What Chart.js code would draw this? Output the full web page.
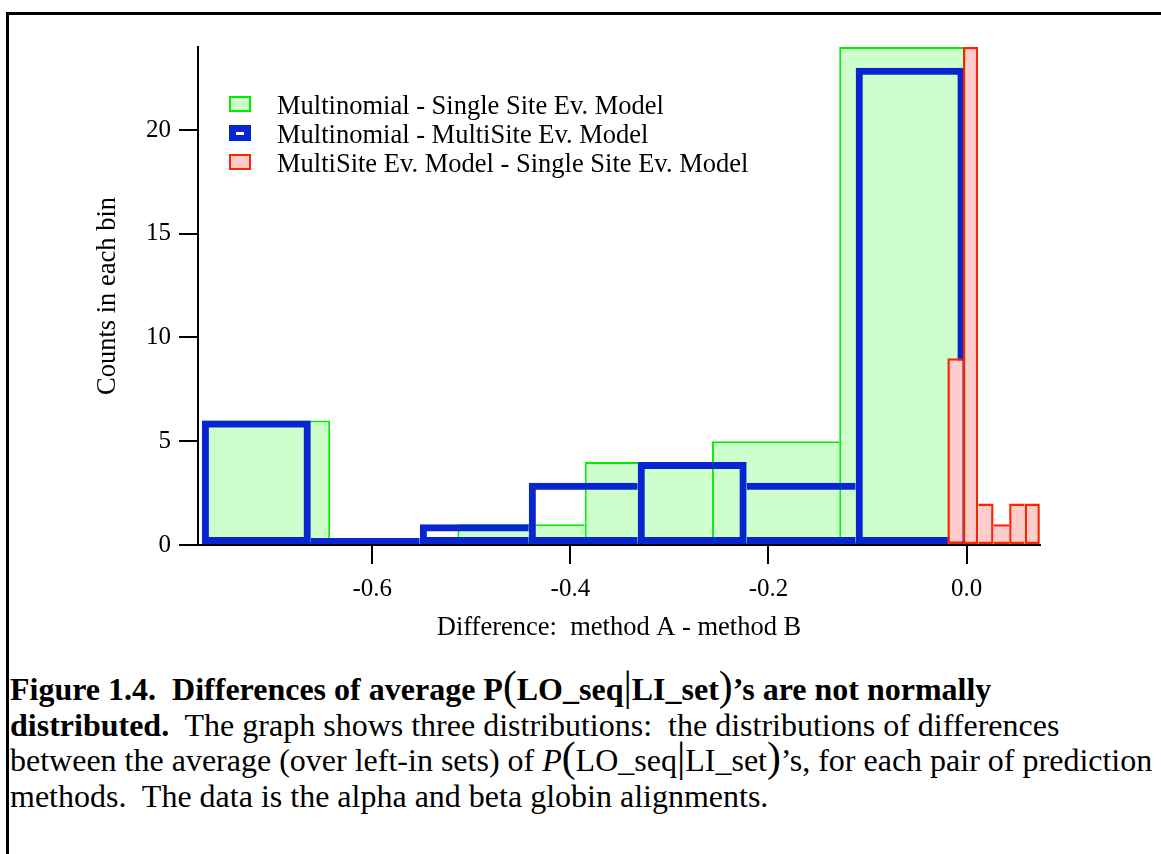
<!DOCTYPE html>
<html>
<head>
<meta charset="utf-8">
<title>Differences of average P(LO_seq|LI_set)</title>
<script src="https://cdn.jsdelivr.net/npm/chart.js@4.4.1/dist/chart.umd.min.js"></script>
<style>
  html, body { margin: 0; padding: 0; background: #fff; overflow: hidden; }
  body { width: 1161px; height: 854px; position: relative; color: #000;
         font-family: 'Liberation Serif', 'Times New Roman', serif; }
  #frame { position: absolute; left: 6px; top: 12px; width: 1300px; height: 1000px;
           border-top: 3px solid #000; border-left: 3px solid #000; }
  #chart_wrap { position: absolute; left: 0; top: 0; width: 1161px; height: 660px; }
  #legend { position: absolute; left: 229px; top: 91px; font-size: 26.5px; }
  .legend_row { position: relative; height: 29px; line-height: 29px; white-space: nowrap; padding-left: 48px; }
  .swatch { position: absolute; left: 0; top: 5px; width: 22px; height: 16px; box-sizing: border-box; }
  .sw_green { background: #ccffcc; border: 2px solid #00ee00; }
  .sw_blue { background: #0726d0; }
  .sw_blue::after { content: ''; position: absolute; left: 7px; top: 7px; width: 8px; height: 2.5px; background: #fff; }
  .sw_red { background: #ffcccc; border: 2px solid #ff2200; }
  #caption { position: absolute; left: 10px; top: 672px; font-size: 32px; }
  .cap_line { height: 35.5px; line-height: 35.5px; white-space: nowrap; }
  .big { font-size: 1.3em; line-height: 0; font-weight: normal; }
  .thin { font-weight: normal; }
</style>
</head>
<body>
<div id="frame"></div>
<div id="chart_wrap"><canvas id="chart"></canvas></div>
<div id="legend"></div>
<div id="caption">
  <div class="cap_line"><b>Figure 1.4.&nbsp; Differences of average P<span class="big">(</span>LO_seq<span class="big thin">|</span>LI_set<span class="big">)</span>’s are not normally</b></div>
  <div class="cap_line"><b>distributed.</b>&nbsp; The graph shows three distributions:&nbsp; the distributions of differences</div>
  <div class="cap_line">between the average (over left-in sets) of <i>P</i><span class="big">(</span>LO_seq<span class="big">|</span>LI_set<span class="big">)</span>’s, for each pair of prediction</div>
  <div class="cap_line">methods.&nbsp; The data is the alpha and beta globin alignments.</div>
</div>
<script>
// histogram data (bin centres on the x axis, counts per bin)

const SERIES_LABELS = [
  'Multinomial - Single Site Ev. Model',
  'Multinomial - MultiSite Ev. Model',
  'MultiSite Ev. Model - Single Site Ev. Model'
];

const GREEN_BIN_CENTERS = [ -0.7068, -0.5783, -0.4498, -0.3213, -0.1928, -0.0643 ];
const GREEN_COUNTS = [ 6, 0, 1, 4, 5, 24 ];

const BLUE_BIN_CENTERS = [ -0.7171, -0.6071, -0.4970, -0.3870, -0.2770, -0.1669, -0.0569 ];
const BLUE_COUNTS = [ 6, 0, 1, 3, 4, 3, 23 ];

const RED_BIN_CENTERS = [ -0.0116, 0.0040, 0.0196, 0.0352, 0.0508, 0.0663 ];
const RED_COUNTS = [ 9, 24, 2, 1, 2, 2 ];

const X_TICKS = [ -0.6, -0.4, -0.2, 0.0 ];
const Y_TICKS = [ 0, 5, 10, 15, 20 ];

const X_MIN = -0.776;
const X_MAX = 0.0742;
const Y_MAX = 24;

const FONT = "'Liberation Serif', 'Times New Roman', serif";
const SWATCH_CLASSES = [ 'sw_green', 'sw_blue', 'sw_red' ];

function make_points( centers_in, counts_in ) {
  return centers_in.map( ( c, i ) => {
    return { x: c, y: counts_in[ i ] };
  } );
}

// each shared bin edge is drawn once, by the taller of the two bars
function edge_borders( counts_in, width_in ) {
  return function ( ctx ) {
    const i = ctx.dataIndex;
    if ( i === undefined ) return width_in;
    const c = counts_in[ i ];
    const prev = i > 0 ? counts_in[ i - 1 ] : -1;
    const next = i < counts_in.length - 1 ? counts_in[ i + 1 ] : -1;
    return {
      top: width_in,
      bottom: width_in,
      left: c >= prev ? width_in : 0,
      right: c > next ? width_in : 0
    };
  };
}

function use_ticks( values_in ) {
  return function ( scale ) {
    scale.ticks = values_in.map( v => ( { value: v } ) );
  };
}

function hidden_x_axis() {
  return {
    type: 'linear', axis: 'x', position: 'bottom', display: false,
    offset: false,
    grid: { offset: false },
    min: X_MIN, max: X_MAX,
    afterBuildTicks: use_ticks( X_TICKS )
  };
}

function build_legend() {
  const box = document.getElementById( 'legend' );
  SERIES_LABELS.forEach( ( label, i ) => {
    const row = document.createElement( 'div' );
    row.className = 'legend_row';
    const sw = document.createElement( 'span' );
    sw.className = 'swatch ' + SWATCH_CLASSES[ i ];
    row.appendChild( sw );
    row.appendChild( document.createTextNode( label ) );
    box.appendChild( row );
  } );
}

const BAR_COMMON = {
  grouped: false,
  borderSkipped: false,
  barPercentage: 1.0,
  categoryPercentage: 1.0,
  inflateAmount: 0
};

function create_chart() {
  const ctx = document.getElementById( 'chart' ).getContext( '2d' );
  return new Chart( ctx, {
    type: 'bar',
    data: {
      datasets: [
        Object.assign( {
          label: SERIES_LABELS[ 0 ],
          data: make_points( GREEN_BIN_CENTERS, GREEN_COUNTS ),
          xAxisID: 'x',
          backgroundColor: '#ccffcc',
          borderColor: '#00ee00',
          borderWidth: edge_borders( GREEN_COUNTS, 2 ),
          order: 3
        }, BAR_COMMON ),
        Object.assign( {
          label: SERIES_LABELS[ 1 ],
          data: make_points( BLUE_BIN_CENTERS, BLUE_COUNTS ),
          xAxisID: 'x_blue',
          backgroundColor: 'rgba(0,0,0,0)',
          borderColor: '#0726d0',
          borderWidth: edge_borders( BLUE_COUNTS, 7 ),
          minBarLength: 7,
          order: 2
        }, BAR_COMMON ),
        Object.assign( {
          label: SERIES_LABELS[ 2 ],
          data: make_points( RED_BIN_CENTERS, RED_COUNTS ),
          xAxisID: 'x_red',
          backgroundColor: '#ffcccc',
          borderColor: '#ff2200',
          borderWidth: edge_borders( RED_COUNTS, 2.5 ),
          order: 1
        }, BAR_COMMON )
      ]
    },
    options: {
      responsive: true,
      maintainAspectRatio: false,
      animation: false,
      events: [],
      layout: { padding: { left: 0, top: 47, right: 121, bottom: 15 } },
      plugins: {
        legend: { display: false },
        tooltip: { enabled: false }
      },
      scales: {
        x: {
          type: 'linear',
          position: 'bottom',
          offset: false,
          min: X_MIN,
          max: X_MAX,
          afterBuildTicks: use_ticks( X_TICKS ),
          afterFit: s => { s.height = 100; },
          ticks: {
            color: '#000',
            font: { family: FONT, size: 25 },
            padding: 10,
            maxRotation: 0,
            callback: v => Math.abs( v ) < 1e-9 ? '0.0' : v.toFixed( 1 )
          },
          grid: { offset: false, drawOnChartArea: false, drawTicks: true, tickLength: 19, color: '#000', lineWidth: 2 },
          border: { display: true, color: '#000', width: 2, z: 1 },
          title: {
            display: true,
            text: 'Difference:  method A - method B',
            color: '#000',
            font: { family: FONT, size: 26.5 },
            padding: { top: 0, bottom: 1 }
          }
        },
        x_blue: hidden_x_axis(),
        x_red: hidden_x_axis(),
        y: {
          min: 0,
          max: Y_MAX,
          afterBuildTicks: use_ticks( Y_TICKS ),
          afterFit: s => { s.width = 198; },
          ticks: {
            color: '#000',
            font: { family: FONT, size: 25 },
            padding: 8
          },
          grid: { drawOnChartArea: false, drawTicks: true, tickLength: 19, color: '#000', lineWidth: 2 },
          border: { display: true, color: '#000', width: 2, z: 1 },
          title: {
            display: true,
            text: 'Counts in each bin',
            color: '#000',
            font: { family: FONT, size: 26.5 },
            padding: { top: 92, bottom: 0 }
          }
        }
      }
    }
  } );
}

build_legend();
create_chart();
</script>
</body>
</html>
